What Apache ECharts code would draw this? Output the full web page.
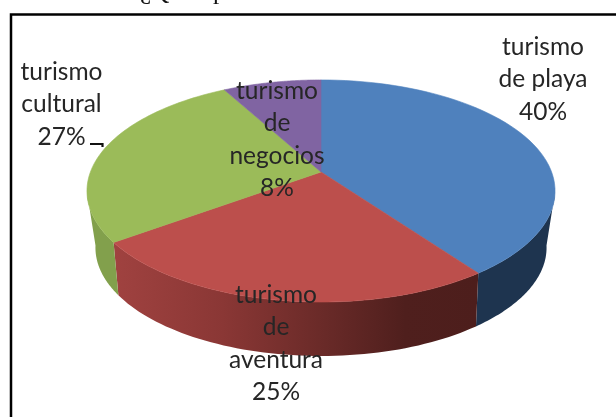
<!DOCTYPE html>
<html>
<head>
<meta charset="utf-8">
<title>Turismo</title>
<style>
  html, body { margin: 0; padding: 0; background: #fff; }
  #chart { width: 616px; height: 417px; }
</style>
</head>
<body>
<div id="chart"></div>
<script src="https://cdn.jsdelivr.net/npm/echarts@6/dist/echarts.min.js"></script>
<script>
// datos
const titleText = 'Gráfico 16. ¿Qué tipo de turismo realizan?'
const categories = ['turismo\nde playa', 'turismo\nde\naventura', 'turismo\ncultural', 'turismo\nde\nnegocios']
const values = [40, 25, 27, 8]
const topColors = ['#4f81bd', '#bc4f4c', '#9bbb59', '#8064a2']

const chart = echarts.init(document.getElementById('chart'))

const total = values.reduce((a, b) => a + b, 0)
// angulo de inicio de cada porcion, en sentido horario desde arriba
const starts = values.map((v, i) => values.slice(0, i).reduce((a, b) => a + b, 0) / total * Math.PI * 2)
const ends = values.map((v, i) => starts[i] + v / total * Math.PI * 2)

// circulo en perspectiva: la cara superior y la base
const topFace = { cx: 321, cy: 172, a: 107.8, b: 230.6, k: 0.171 }
const baseFace = { cx: 321, cy: 226, a: 104, b: 221, k: 0.2 }

function rim(face, t) {
  const d = 1 + face.k * Math.cos(t)
  return [face.cx + face.b * Math.sin(t) / d, face.cy - face.a * Math.cos(t) / d]
}

function arc(face, from, to) {
  const pts = []
  const n = 60
  for (let i = 0; i <= n; i++) {
    pts.push(rim(face, from + (to - from) * i / n))
  }
  return pts
}

function sideFill(i) {
  if (i === 1) {
    return new echarts.graphic.LinearGradient(0, 0, 1, 0, [
      { offset: 0, color: '#a04240' },
      { offset: 0.3, color: '#8a3735' },
      { offset: 0.58, color: '#692a28' },
      { offset: 0.8, color: '#4f1f1d' },
      { offset: 1, color: '#4d1e1c' }
    ])
  }
  return i === 0 ? '#1e344f' : '#82a04c'
}

// solo se ve el lateral de la mitad de abajo
const sideFrom = Math.PI - Math.acos(0.18)
const sideTo = Math.PI + Math.acos(0.18)

function renderSide(params, api) {
  const i = params.dataIndex
  const from = Math.max(starts[i], sideFrom)
  const to = Math.min(ends[i], sideTo)
  if (from >= to) {
    return null
  }
  return {
    type: 'polygon',
    shape: { points: arc(topFace, from, to).concat(arc(baseFace, to, from)) },
    style: { fill: sideFill(i) }
  }
}

function renderTop(params, api) {
  const i = params.dataIndex
  return {
    type: 'polygon',
    shape: { points: [[topFace.cx, topFace.cy]].concat(arc(topFace, starts[i], ends[i])) },
    // el trazo tapa la costura blanca entre porciones
    style: { fill: topColors[i], stroke: topColors[i], lineWidth: 0.6 }
  }
}

// posicion del centro de cada etiqueta
const labelSpots = [[543, 79.5], [276, 343.5], [61.5, 104.5], [277, 139.5]]

function renderLabel(params, api) {
  const i = params.dataIndex
  return {
    type: 'text',
    style: {
      x: labelSpots[i][0],
      y: labelSpots[i][1],
      text: categories[i] + '\n' + values[i] + '%',
      align: 'center',
      verticalAlign: 'middle',
      fill: '#262626',
      font: '24.5px Lato',
      lineHeight: 32.5
    }
  }
}

chart.setOption({
  animation: false,
  backgroundColor: '#fff',
  title: {
    text: titleText,
    left: 15,
    top: -25,
    textStyle: { fontFamily: 'Liberation Serif', fontSize: 25, fontWeight: 'normal', color: '#111' }
  },
  series: [
    { type: 'custom', coordinateSystem: 'none', z: 1, silent: true, renderItem: renderSide, data: values },
    { type: 'custom', coordinateSystem: 'none', z: 2, silent: true, renderItem: renderTop, data: values },
    { type: 'custom', coordinateSystem: 'none', z: 3, silent: true, renderItem: renderLabel, data: values }
  ],
  graphic: [
    // marco
    { type: 'polyline', z: 5, shape: { points: [[11, 417], [11, 14.5], [616, 14.5]] }, style: { stroke: '#000', lineWidth: 2.5, fill: null } },
    // linea guia de turismo cultural
    { type: 'polyline', z: 5, shape: { points: [[90, 144], [102.5, 144], [102.5, 147]] }, style: { stroke: '#111', lineWidth: 2.2, fill: null } }
  ]
})
</script>
</body>
</html>
